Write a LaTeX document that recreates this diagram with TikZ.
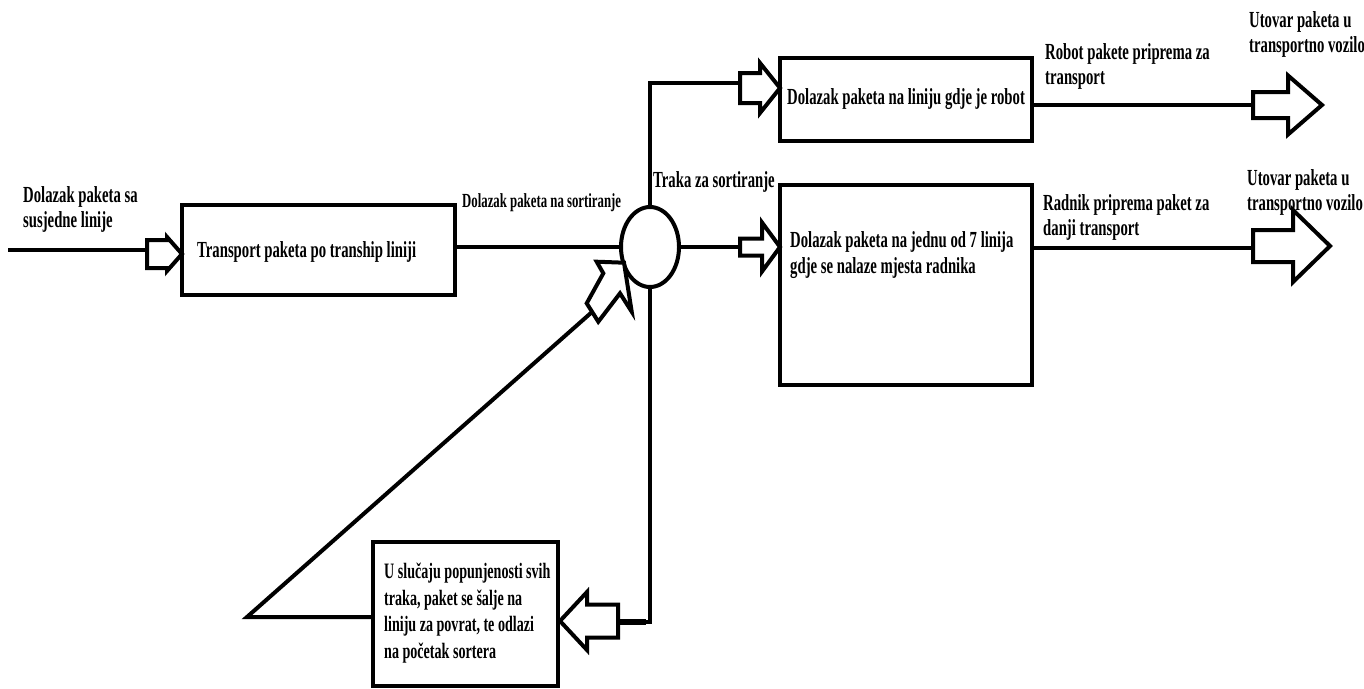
\documentclass[tikz,border=0pt]{standalone}
\usepackage{fontspec}
\setmainfont{Liberation Serif}[FakeStretch=0.64]
\usetikzlibrary{shapes.geometric}
\newcommand\myblockarrow[6]{\draw[barrow] (#1,{#4-#5}) -- (#2,{#4-#5}) -- (#2,{#4-#6}) -- (#3,#4) -- (#2,{#4+#6}) -- (#2,{#4+#5}) -- (#1,{#4+#5}) -- cycle;}
\begin{document}
\begin{tikzpicture}[x=1pt,y=-1pt,line join=miter,
 ln/.style={line width=4pt},
 boxn/.style={draw, line width=4.5pt, rectangle, inner sep=0pt},
 barrow/.style={draw, fill=white, line width=4pt, line join=miter},
 txt/.style={font=\bfseries\fontsize{23}{25}\selectfont, anchor=north west, inner sep=0pt, align=left}]
\useasboundingbox (0,0) rectangle (1364,688);
% boxes
\node[boxn, minimum width=273pt, minimum height=90pt] (b1) at (318.5,250) {};
\node[boxn, minimum width=252pt, minimum height=83pt] (rb) at (906,99.5) {};
\node[boxn, minimum width=252pt, minimum height=200pt] (b2) at (906,285) {};
\node[boxn, minimum width=185pt, minimum height=144pt] (b3) at (465.5,614) {};
\node[draw, ellipse, line width=4pt, minimum width=58pt, minimum height=80pt, inner sep=0pt] (c) at (650,247) {};
% coordinates
\coordinate (in) at (8,250);
\coordinate (a1) at (147,250);
\coordinate (a2) at (740,83);
\coordinate (a3) at (740,247);
\coordinate (a4) at (1253,105);
\coordinate (a5) at (1253,248);
\coordinate (a6) at (618,622);
\coordinate (a6b) at (646,622);
\coordinate (d1) at (247,617);
\coordinate (d2) at (592,312);
% connectors
\draw[ln] (in) -- (a1);
\draw[ln] (b1.east |- c.west) -- (c.west);
\draw[ln] (c.north) |- (a2);
\draw[ln] (c.east) -- (a3);
\draw[ln] (c.south) |- (a6);
\draw[line width=6pt] (a6) -- (a6b);
\draw[ln] (rb.east |- a4) -- (a4);
\draw[ln] (b2.east |- a5) -- (a5);
\draw[ln] (b3.west |- d1) -- (d1) -- (d2);
% block arrows
\myblockarrow{147}{167}{182}{254}{14}{17}
\myblockarrow{740}{760}{780}{88}{15}{25}
\myblockarrow{740}{762}{780}{247}{8.5}{24.5}
\myblockarrow{1253}{1288}{1322}{105}{13}{29.5}
\myblockarrow{1253}{1293}{1330}{246}{16}{36}
\myblockarrow{618}{587}{560}{621}{16.5}{29}
\draw[barrow] (596.7,261.7) -- (624,262.7) -- (631.7,311.7) -- (620,293.3) -- (598.3,321.7) -- (586.7,303.3) -- (603.3,273.3) -- cycle;
% texts
\node[txt] (t1) at (23,186) {Dolazak paketa sa\\susjedne linije};
\node[txt] (t2) at (197,241) {Transport paketa po tranship liniji};
\node[txt, font=\bfseries\fontsize{20}{23}\selectfont] (t3) at (462,193) {Dolazak paketa na sortiranje};
\node[txt] (t4) at (653,171) {Traka za sortiranje};
\node[txt] (t5) at (787,88) {Dolazak paketa na liniju gdje je robot};
\node[txt, font=\bfseries\fontsize{23}{26}\selectfont] (t6) at (790,231) {Dolazak paketa na jednu od 7 linija\\gdje se nalaze mjesta radnika};
\node[txt] (t7) at (1045,43) {Robot pakete priprema za\\transport};
\node[txt] (t8) at (1249,11) {Utovar paketa u\\transportno vozilo};
\node[txt] (t9) at (1043,194) {Radnik priprema paket za\\danji transport};
\node[txt] (t10) at (1247,169) {Utovar paketa u\\transportno vozilo};
\node[txt, font=\bfseries\fontsize{22}{26.5}\selectfont] (t11) at (384,563) {U slučaju popunjenosti svih\\traka, paket se šalje na\\liniju za povrat, te odlazi\\na početak sortera};
\end{tikzpicture}
\end{document}
